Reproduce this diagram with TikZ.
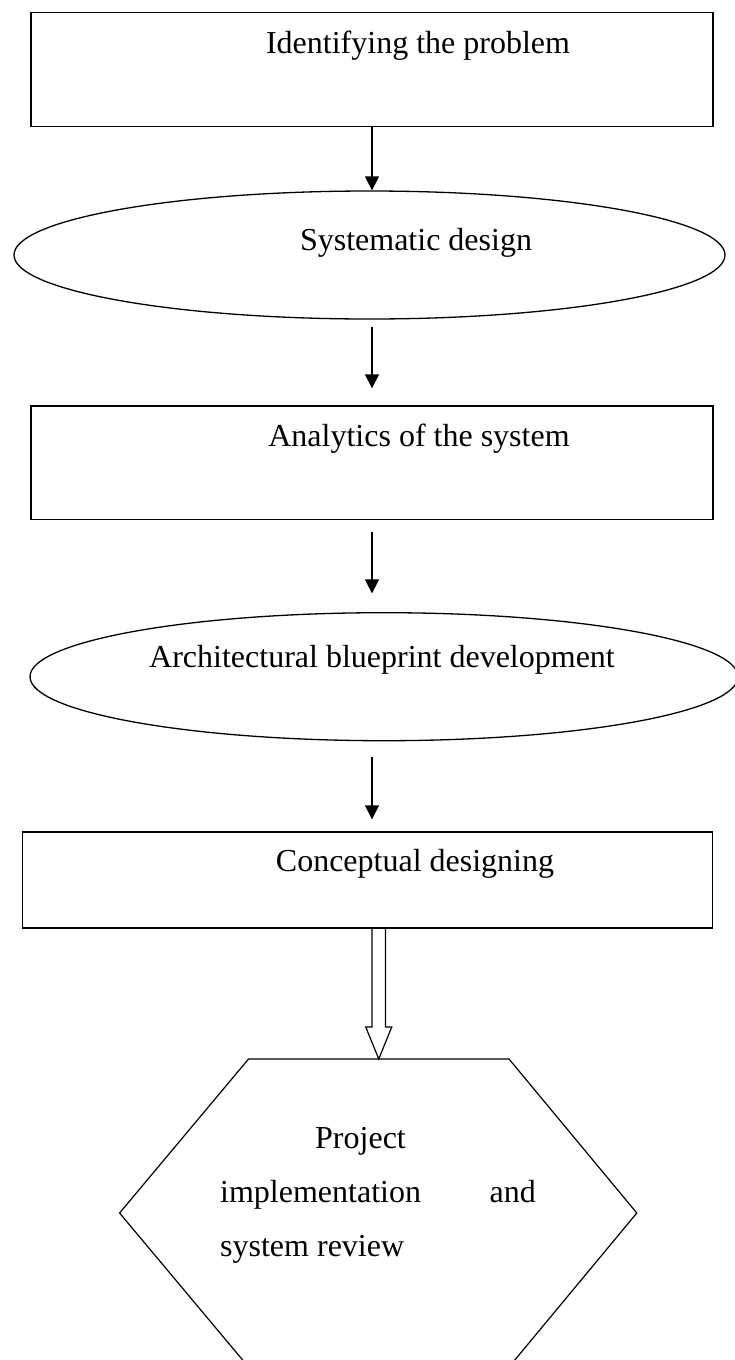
\documentclass[tikz,border=0pt]{standalone}
\usepackage{fontspec}
\setmainfont{Liberation Serif}
\usetikzlibrary{shapes.geometric,arrows.meta,calc}

\begin{document}
\begin{tikzpicture}[x=1pt,y=-1pt,
  box/.style={draw,rectangle,line width=1.5pt,inner sep=0pt},
  oval/.style={draw,ellipse,line width=1.3pt,inner sep=0pt},
  txt/.style={anchor=base,inner sep=0pt,font=\fontsize{32}{38}\selectfont},
  flow/.style={line width=1.5pt,-{Triangle[width=14pt,length=14pt]}}]
\clip (0,0) rectangle (735,1360);
% boxes and ovals
\node[box,minimum width=682pt,minimum height=114pt] (b1) at (372,69.7) {};
\node[txt] (t1) at (418,53) {Identifying the problem};
\node[oval,minimum width=711pt,minimum height=128pt] (e1) at (369.5,255) {};
\node[txt] (t2) at (416,250) {Systematic design};
\node[box,minimum width=682pt,minimum height=113.3pt] (b2) at (372,462.7) {};
\node[txt] (t3) at (419,446.7) {Analytics of the system};
\node[oval,minimum width=708pt,minimum height=128pt] (e2) at (384,676.7) {};
\node[txt] (t4) at (382,667) {Architectural blueprint development};
\node[box,minimum width=690pt,minimum height=96.3pt] (b3) at (367.5,879.9) {};
\node[txt] (t5) at (415,871.7) {Conceptual designing};
% hexagon
\draw[line width=1.2pt] (248.5,1059) -- (509,1059) -- (636.8,1213) -- (509,1367)
  -- (248.5,1367) -- (119.6,1213) -- cycle;
\coordinate (htop) at (378.75,1059);
\node[txt,anchor=base west] (h1) at (315,1148) {Project};
\node[txt,anchor=base west] (h2) at (220,1202.7) {implementation};
\node[txt,anchor=base east] (h3) at (536,1202.7) {and};
\node[txt,anchor=base west] (h4) at (220,1256.7) {system review};
% arrows
\draw[flow] (b1.south) -- (b1.south |- e1.north);
\draw[flow] ($(e1.south -| b1.south)+(0,7.7)$) -- ($(b2.north)+(0,-17)$);
\draw[flow] ($(b2.south)+(0,11.4)$) -- ($(b2.south |- e2.north)+(0,-18.7)$);
\draw[flow] ($(e2.south -| b2.south)+(0,16)$) -- ($(b3.north -| b2.south)+(0,-11.7)$);
\draw[line width=1.2pt] ($(b3.south -| htop)+(-6.75,0)$) -- ($(htop)+(-6.75,-32)$)
  -- ($(htop)+(-13,-32)$) -- (htop) -- ($(htop)+(13,-32)$)
  -- ($(htop)+(6.75,-32)$) -- ($(b3.south -| htop)+(6.75,0)$);
\end{tikzpicture}
\end{document}
